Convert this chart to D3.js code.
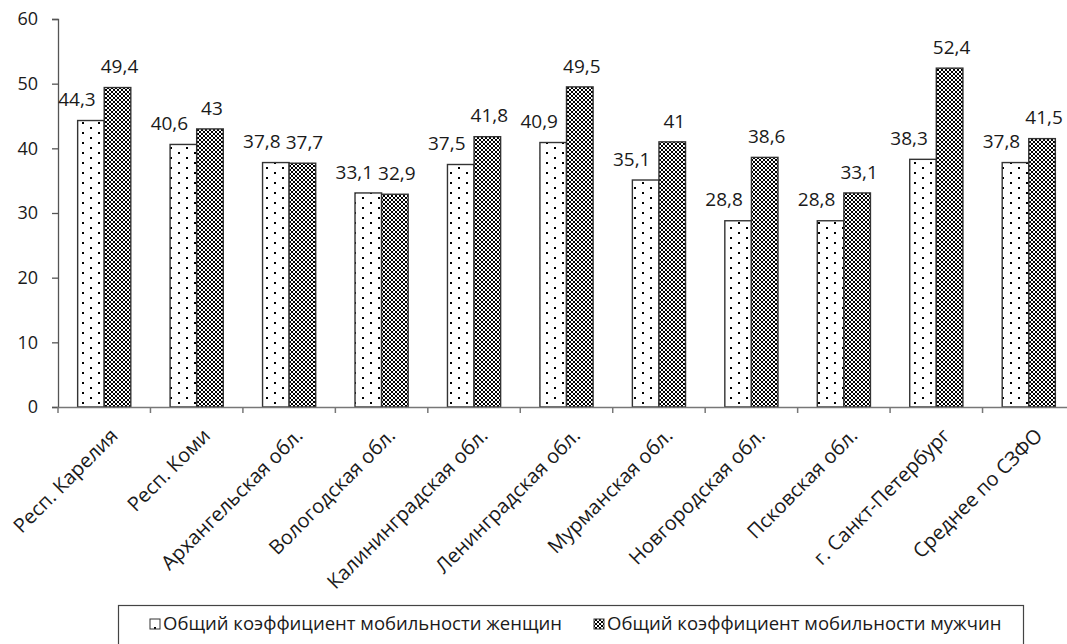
<!DOCTYPE html>
<html><head><meta charset="utf-8">
<script src="https://cdn.jsdelivr.net/npm/d3@7"></script>
<style>body{margin:0;background:#fff}svg{display:block}text{font-family:"Open Sans",sans-serif;fill:#1a1a1a}</style>
</head><body><svg id="c" width="1067" height="644"></svg>
<script>
const categories = ["Респ. Карелия","Респ. Коми","Архангельская обл.","Вологодская обл.","Калининградская обл.","Ленинградская обл.","Мурманская обл.","Новгородская обл.","Псковская обл.","г. Санкт-Петербург","Среднее по СЗФО"];
const women = [44.3,40.6,37.8,33.1,37.5,40.9,35.1,28.8,28.8,38.3,37.8];
const men = [49.4,43,37.7,32.9,41.8,49.5,41,38.6,33.1,52.4,41.5];
const seriesNames = ["Общий коэффициент мобильности женщин","Общий коэффициент мобильности мужчин"];
const yTicks = [0,10,20,30,40,50,60];

const svg = d3.select("#c");
const defs = svg.append("defs");
const p1 = defs.append("pattern").attr("id","dots").attr("patternUnits","userSpaceOnUse").attr("width",16).attr("height",10);
p1.append("rect").attr("width",16).attr("height",10).attr("fill","#fff");
p1.append("rect").attr("x",2).attr("y",2).attr("width",2).attr("height",2).attr("fill","#000");
p1.append("rect").attr("x",10).attr("y",7).attr("width",2).attr("height",2).attr("fill","#000");
const p2 = defs.append("pattern").attr("id","cross").attr("patternUnits","userSpaceOnUse").attr("width",4).attr("height",4);
p2.append("rect").attr("width",4).attr("height",4).attr("fill","#fff");
[[0,0],[1,1],[2,2],[3,3],[3,0],[2,1],[1,2],[0,3]].forEach(([a,b])=>p2.append("rect").attr("x",a).attr("y",b).attr("width",1).attr("height",1).attr("fill","#000"));

const y = d3.scaleLinear().domain([0,60]).range([407,19]);
const x = d3.scaleBand().domain(categories).range([58,1075]).padding(0);
const gw = x.bandwidth()*0.575;
const bx = (c,i) => x(c) + (x.bandwidth()-gw)/2 + i*gw/2;

const ya = svg.append("g").attr("transform","translate(58,0)")
  .call(d3.axisLeft(y).tickValues(yTicks).tickSize(6).tickPadding(14).tickFormat(d3.format("d")));
ya.select(".domain").attr("stroke","#555").attr("stroke-width",1.3);
ya.selectAll(".tick line").attr("stroke","#555").attr("stroke-width",1.3);
ya.selectAll(".tick text").style("font-size","18px").attr("fill","#1a1a1a");

const series = [{vals:women, fill:"url(#dots)"},{vals:men, fill:"url(#cross)"}];
series.forEach((s,i)=>{
  svg.append("g").selectAll("rect").data(categories).join("rect")
    .attr("x", c=>bx(c,i)).attr("width", gw/2)
    .attr("y", (c,k)=>y(s.vals[k])).attr("height",(c,k)=>y(0)-y(s.vals[k]))
    .attr("fill", s.fill).attr("stroke","#333").attr("stroke-width",1.4);
});

const xa = svg.append("g").attr("transform","translate(0,407)")
  .call(d3.axisBottom(x).tickSize(0).tickFormat(""));
xa.select(".domain").attr("stroke","#777").attr("stroke-width",1.5);
const edges = categories.map(c=>x(c)).concat([x.range()[1]]);
svg.append("g").selectAll("line").data(edges).join("line")
  .attr("x1",d=>d).attr("x2",d=>d).attr("y1",407).attr("y2",413).attr("stroke","#777").attr("stroke-width",1.5);

svg.append("g").selectAll("text").data(categories).join("text")
  .attr("transform", c=>`translate(${x(c)+x.bandwidth()/2+5},${427}) rotate(-45)`)
  .attr("text-anchor","end").attr("dy","0.7em").style("font-size","20px").text(c=>c);

const fmt = v => String(v).replace(".",",");
series.forEach((s,i)=>{
  svg.append("g").selectAll("text").data(categories).join("text")
    .attr("x", c=>bx(c,i)+gw/4 + (i===0?-14:2))
    .attr("y", (c,k)=>y(s.vals[k]) - 21)
    .attr("dy","0.35em").attr("text-anchor","middle").style("font-size","19px")
    .text((c,k)=>fmt(s.vals[k]));
});

const lg = svg.append("g");
lg.append("rect").attr("x",118.5).attr("y",605.5).attr("width",905).attr("height",60).attr("fill","none").attr("stroke","#444").attr("stroke-width",1.2);
const legX = [150, 594];
seriesNames.forEach((n,i)=>{
  lg.append("rect").attr("x",legX[i]).attr("y",619).attr("width",10).attr("height",10)
    .attr("fill", series[i].fill).attr("stroke","#333").attr("stroke-width",1);
  lg.append("text").attr("x",legX[i]+13).attr("y",624).attr("dy","0.35em").style("font-size","18.5px").text(n);
});
</script></body></html>
